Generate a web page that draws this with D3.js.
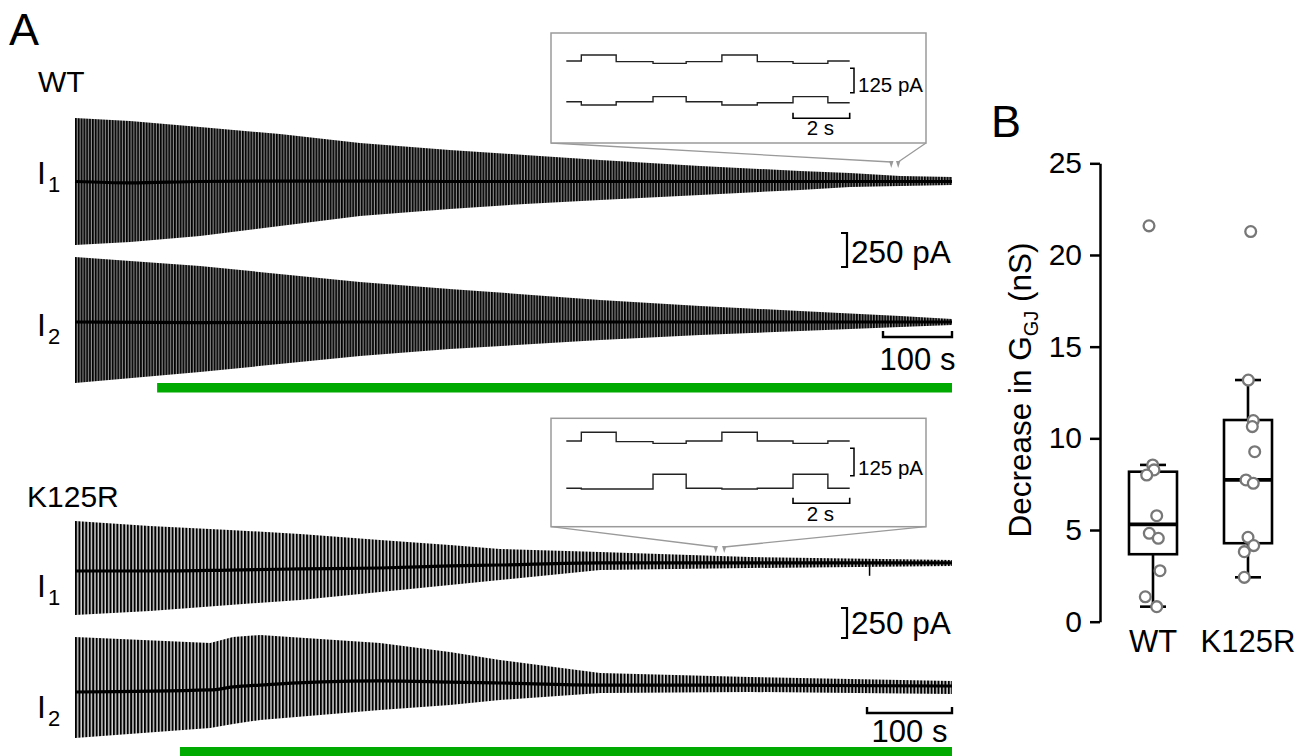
<!DOCTYPE html>
<html>
<head>
<meta charset="utf-8">
<script src="https://cdn.jsdelivr.net/npm/d3@7"></script>
<style>
  body { margin: 0; background: #fff; }
  svg { display: block; font-family: "Liberation Sans", Arial, sans-serif; }
</style>
</head>
<body>
<script>
// ---- panel A : WT paired recording (time in s, current in pA, relative to start baseline)
const wtTimeI1 = [0, 80, 181, 297, 413, 543, 652, 761, 906, 1051, 1123, 1196, 1271];
const wtBaseI1 = [0, -10, 0, 3, 3, 0, 0, 0, 0, 0, 0, 0, 0];
const wtHighI1 = [467, 445, 401, 349, 283, 232, 195, 158, 114, 77, 62, 40, 33];
const wtLowI1  = [-467, -445, -401, -327, -254, -202, -165, -136, -99, -62, -40, -33, -26];

const wtTimeI2 = [0, 181, 413, 543, 761, 906, 1051, 1196, 1271];
const wtBaseI2 = [0, -5, 0, 0, 0, 0, 0, 0, 0];
const wtHighI2 = [478, 412, 294, 243, 162, 118, 81, 44, 22];
const wtLowI2  = [-449, -368, -250, -199, -132, -96, -66, -37, -22];

const wtDuration = 1271;
const wtDrugStart = 119;

// ---- panel A : K125R
const kTimeI1 = [0, 88, 182, 265, 359, 441, 500, 618, 794, 1032];
const kBaseI1 = [0, 0, 8, 17, 25, 42, 50, 67, 67, 67];
const kHighI1 = [417, 375, 342, 308, 258, 217, 183, 158, 117, 92];
const kLowI1  = [-367, -333, -283, -242, -175, -117, -75, 8, 25, 42];
const kArtifactI1 = [935, -40];

const kTimeI2 = [0, 159, 186, 218, 359, 441, 500, 618, 794, 1032];
const kBaseI2 = [0, 17, 42, 58, 92, 83, 75, 58, 58, 50];
const kHighI2 = [458, 408, 458, 475, 408, 333, 267, 158, 125, 92];
const kLowI2  = [-383, -300, -267, -233, -150, -108, -67, -8, 0, -17];

const kDuration = 1032;
const kDrugStart = 123.5;

// ---- insets (10 s windows), step edges in s, levels in pA
const insetEdges = [0, 0.53, 1.76, 3.06, 4.23, 5.49, 6.74, 8.0, 9.23, 10.0];
const wtInsetI1 = [0, 31, -3, -12, -3, 31, -3, -12, 0];
const wtInsetI2 = [0, -17, 0, 26, 0, -17, -5, 26, -5];
const kInsetI1  = [0, 40, -3, -11, 0, 40, 0, -11, 0];
const kInsetI2  = [0, -3, -3, 64, 0, -3, 0, 64, 0];
const wtInsetStart = 1183;
const kInsetStart = 754;

// ---- panel B : decrease in GGJ (nS)
const groups = ["WT", "K125R"];
const wtValues = [21.59, 8.55, 8.28, 8.0, 5.78, 4.82, 4.55, 2.78, 1.36, 0.82];
const k125rValues = [21.28, 13.18, 10.97, 10.64, 9.27, 7.73, 7.55, 4.6, 4.15, 3.82, 2.42];
const boxLow  = [0.82, 2.42];
const boxQ1   = [3.68, 4.28];
const boxMed  = [5.31, 7.73];
const boxQ3   = [8.18, 11.0];
const boxHigh = [8.55, 13.18];
const yTicks = [0, 5, 10, 15, 20, 25];

// jitter of the dots (px), layout only
const wtJitter = [-4, -0.3, 1, -6.3, 3.7, -3.7, 5.3, 7, -7.7, 3.7];
const kJitter = [2.7, 0.3, 5.3, 4.3, 6.7, -2, 5.3, 0, 5.7, -3.7, -3.7];

const W = 1308, H = 756;
const svg = d3.select("body").append("svg").attr("width", W).attr("height", H);
const defs = svg.append("defs");

function stripes(id, step, lineW, bg) {
  const p = defs.append("pattern").attr("id", id)
    .attr("patternUnits", "userSpaceOnUse")
    .attr("x", 75).attr("y", 0)
    .attr("width", step).attr("height", 20);
  p.append("rect").attr("width", step).attr("height", 20).attr("fill", bg);
  p.append("rect").attr("width", lineW).attr("height", 20).attr("fill", "#000");
}
stripes("stripeWT", 2.83, 1.7, "#8e8e8e");
stripes("stripeK", 3.45, 2.0, "#d8d8d8");

const xWT = d3.scaleLinear().domain([0, wtDuration]).range([75, 952]);
const xK = d3.scaleLinear().domain([0, kDuration]).range([75, 952]);
const yWT = d3.scaleLinear().domain([0, 250]).range([0, -34]);
const yK = d3.scaleLinear().domain([0, 250]).range([0, -30]);

function drawTrace(times, base, high, low, x, y, zero, pattern) {
  const g = svg.append("g").attr("transform", `translate(0,${zero})`);
  const pts = times.map((t, i) => ({ t, b: base[i], hi: high[i], lo: low[i] }));
  const area = d3.area().x(d => x(d.t)).y0(d => y(d.lo)).y1(d => y(d.hi));
  g.append("path").datum(pts).attr("d", area).attr("fill", `url(#${pattern})`);
  const line = d3.line().x(d => x(d.t)).y(d => y(d.b)).curve(d3.curveMonotoneX);
  g.append("path").datum(pts).attr("d", line)
    .attr("fill", "none").attr("stroke", "#000").attr("stroke-width", 3.2);
  return g;
}

drawTrace(wtTimeI1, wtBaseI1, wtHighI1, wtLowI1, xWT, yWT, 181.5, "stripeWT");
drawTrace(wtTimeI2, wtBaseI2, wtHighI2, wtLowI2, xWT, yWT, 322, "stripeWT");
const gK1 = drawTrace(kTimeI1, kBaseI1, kHighI1, kLowI1, xK, yK, 571, "stripeK");
drawTrace(kTimeI2, kBaseI2, kHighI2, kLowI2, xK, yK, 692, "stripeK");

// small artefact on K125R I1
gK1.append("line")
  .attr("x1", xK(kArtifactI1[0])).attr("x2", xK(kArtifactI1[0]))
  .attr("y1", yK(67)).attr("y2", yK(kArtifactI1[1]))
  .attr("stroke", "#000").attr("stroke-width", 1.5);

// drug application bars
svg.append("rect").attr("x", xWT(wtDrugStart)).attr("y", 383)
  .attr("width", xWT(wtDuration) - xWT(wtDrugStart)).attr("height", 9.5).attr("fill", "#00aa00");
svg.append("rect").attr("x", xK(kDrugStart)).attr("y", 747)
  .attr("width", xK(kDuration) - xK(kDrugStart)).attr("height", 10).attr("fill", "#00aa00");

// scale bars
function ampBar(x, top, px, label, fs) {
  svg.append("path")
    .attr("d", `M${x},${top}H${x + 6}V${top + px}H${x}`)
    .attr("fill", "none").attr("stroke", "#000").attr("stroke-width", 2.2);
  svg.append("text").attr("x", x + 10).attr("y", top + px - 4)
    .attr("font-size", fs).text(label);
}
function timeBar(x0, x1, yb, label, fs, tick, dy, sw) {
  svg.append("path")
    .attr("d", `M${x0},${yb - tick}V${yb}H${x1}V${yb - tick}`)
    .attr("fill", "none").attr("stroke", "#000").attr("stroke-width", sw);
  svg.append("text").attr("x", (x0 + x1) / 2).attr("y", yb + dy)
    .attr("text-anchor", "middle").attr("font-size", fs).text(label);
}
ampBar(841, 233, yWT(0) - yWT(250), "250 pA", 31.5);
ampBar(841, 608, yK(0) - yK(250), "250 pA", 31.5);
timeBar(xWT(wtDuration - 100), xWT(wtDuration), 337, "100 s", 31, 6, 33, 2.4);
timeBar(xK(kDuration - 100), xK(kDuration), 713, "100 s", 31, 6, 29, 2.4);

// insets
function inset(boxTop, boxH, yI1, yI2, lvI1, lvI2, pxPerPA, tStart, xMain, arrowY) {
  const gray = "#9a9a9a";
  const xs = d3.scaleLinear().domain([0, 10]).range([566.3, 849.7]);
  const ys = d3.scaleLinear().domain([0, 125]).range([0, -125 * pxPerPA]);
  const boxL = 551, boxR = 926;
  const a1 = xMain(tStart), a2 = xMain(tStart + 10);
  svg.append("path")
    .attr("d", `M${boxL},${boxTop + boxH}L${a1},${arrowY - 6}M${boxR},${boxTop + boxH}L${a2},${arrowY - 6}`)
    .attr("stroke", gray).attr("stroke-width", 1.3).attr("fill", "none");
  [a1, a2].forEach(a => {
    svg.append("path").attr("d", `M${a - 2.2},${arrowY - 7}L${a + 2.2},${arrowY - 7}L${a},${arrowY}Z`)
      .attr("fill", gray);
  });
  svg.append("rect").attr("x", boxL).attr("y", boxTop).attr("width", boxR - boxL).attr("height", boxH)
    .attr("fill", "#fff").attr("stroke", gray).attr("stroke-width", 1.5);
  const step = d3.line().x(d => xs(d[0])).y(d => ys(d[1])).curve(d3.curveStepAfter);
  [[lvI1, yI1], [lvI2, yI2]].forEach(([lv, y0]) => {
    const pts = insetEdges.map((e, i) => [e, lv[Math.min(i, lv.length - 1)]]);
    svg.append("path").datum(pts).attr("transform", `translate(0,${y0})`)
      .attr("d", step).attr("fill", "none").attr("stroke", "#222").attr("stroke-width", 1.4);
  });
  return { xs, ys };
}
const insWT = inset(33, 110, 61, 101.7, wtInsetI1, wtInsetI2, 24.4 / 125, wtInsetStart, xWT, 168);
const insK = inset(418.3, 108.4, 441, 488.3, kInsetI1, kInsetI2, 27.4 / 125, kInsetStart, xK, 553);

function insetBars(ins, top, barY, textY) {
  const h = ins.ys(0) - ins.ys(125);
  svg.append("path").attr("d", `M850,${top}H854V${top + h}H850`)
    .attr("fill", "none").attr("stroke", "#000").attr("stroke-width", 1.5);
  svg.append("text").attr("x", 858).attr("y", top + h - 1).attr("font-size", 20.5).text("125 pA");
  const x0 = ins.xs(8), x1 = ins.xs(10);
  svg.append("path").attr("d", `M${x0},${barY - 5.5}V${barY}H${x1}V${barY - 5.5}`)
    .attr("fill", "none").attr("stroke", "#000").attr("stroke-width", 1.6);
  svg.append("text").attr("x", (x0 + x1) / 2 - 1).attr("y", textY)
    .attr("text-anchor", "middle").attr("font-size", 20.5).text("2 s");
}
insetBars(insWT, 68.3, 118.3, 135);
insetBars(insK, 448.3, 503.3, 521);

// panel A labels
svg.append("text").attr("x", 9).attr("y", 45).attr("font-size", 45).text("A");
svg.append("text").attr("x", 38).attr("y", 92).attr("font-size", 30).text("WT");
svg.append("text").attr("x", 27).attr("y", 507).attr("font-size", 30).text("K125R");
function currentLabel(y, sub) {
  const t = svg.append("text").attr("x", 37).attr("y", y).attr("font-size", 32);
  t.append("tspan").text("I");
  t.append("tspan").attr("font-size", 22).attr("dy", 8).attr("dx", 2).text(sub);
}
currentLabel(184, "1");
currentLabel(336, "2");
currentLabel(597, "1");
currentLabel(718, "2");

// ---- panel B
svg.append("text").attr("x", 991).attr("y", 137).attr("font-size", 45).text("B");

const yB = d3.scaleLinear().domain([0, 25]).range([621.7, 163.3]);
const xB = d3.scalePoint().domain(groups).range([1153, 1248]);

const axis = svg.append("g").attr("transform", "translate(1100,0)")
  .call(d3.axisLeft(yB).tickValues(yTicks).tickSize(10).tickSizeOuter(0).tickPadding(8));
axis.select(".domain").attr("stroke-width", 2.5);
axis.selectAll(".tick line").attr("stroke-width", 2.5);
axis.selectAll(".tick text").attr("font-size", 30).attr("font-family", "Liberation Sans, Arial, sans-serif")
  .attr("fill", "#000");

const yl = svg.append("text")
  .attr("transform", "translate(1031,390) rotate(-90)")
  .attr("text-anchor", "middle").attr("font-size", 31.5);
yl.append("tspan").text("Decrease in G");
yl.append("tspan").attr("font-size", 20).attr("dy", 7).text("GJ");
yl.append("tspan").attr("dy", -7).text(" (nS)");

groups.forEach((gname, i) => {
  const cx = xB(gname);
  const hw = 24, cap = 13;
  const g = svg.append("g").attr("stroke", "#000").attr("fill", "none");
  g.append("line").attr("x1", cx).attr("x2", cx).attr("y1", yB(boxHigh[i])).attr("y2", yB(boxQ3[i])).attr("stroke-width", 2.6);
  g.append("line").attr("x1", cx).attr("x2", cx).attr("y1", yB(boxQ1[i])).attr("y2", yB(boxLow[i])).attr("stroke-width", 2.6);
  g.append("line").attr("x1", cx - cap).attr("x2", cx + cap).attr("y1", yB(boxHigh[i])).attr("y2", yB(boxHigh[i])).attr("stroke-width", 2.6);
  g.append("line").attr("x1", cx - cap).attr("x2", cx + cap).attr("y1", yB(boxLow[i])).attr("y2", yB(boxLow[i])).attr("stroke-width", 2.6);
  g.append("rect").attr("x", cx - hw).attr("y", yB(boxQ3[i]))
    .attr("width", hw * 2).attr("height", yB(boxQ1[i]) - yB(boxQ3[i])).attr("stroke-width", 2.6);
  g.append("line").attr("x1", cx - hw).attr("x2", cx + hw).attr("y1", yB(boxMed[i])).attr("y2", yB(boxMed[i])).attr("stroke-width", 3.8);

  svg.append("text").attr("x", cx).attr("y", 652).attr("text-anchor", "middle")
    .attr("font-size", 31).text(gname);
});

[[wtValues, wtJitter, "WT"], [k125rValues, kJitter, "K125R"]].forEach(([vals, jit, gname]) => {
  svg.append("g").selectAll("circle").data(vals).join("circle")
    .attr("cx", (d, i) => xB(gname) + jit[i])
    .attr("cy", d => yB(d))
    .attr("r", 5.4)
    .attr("fill", "#fff").attr("stroke", "#777").attr("stroke-width", 2.3);
});
</script>
</body>
</html>
